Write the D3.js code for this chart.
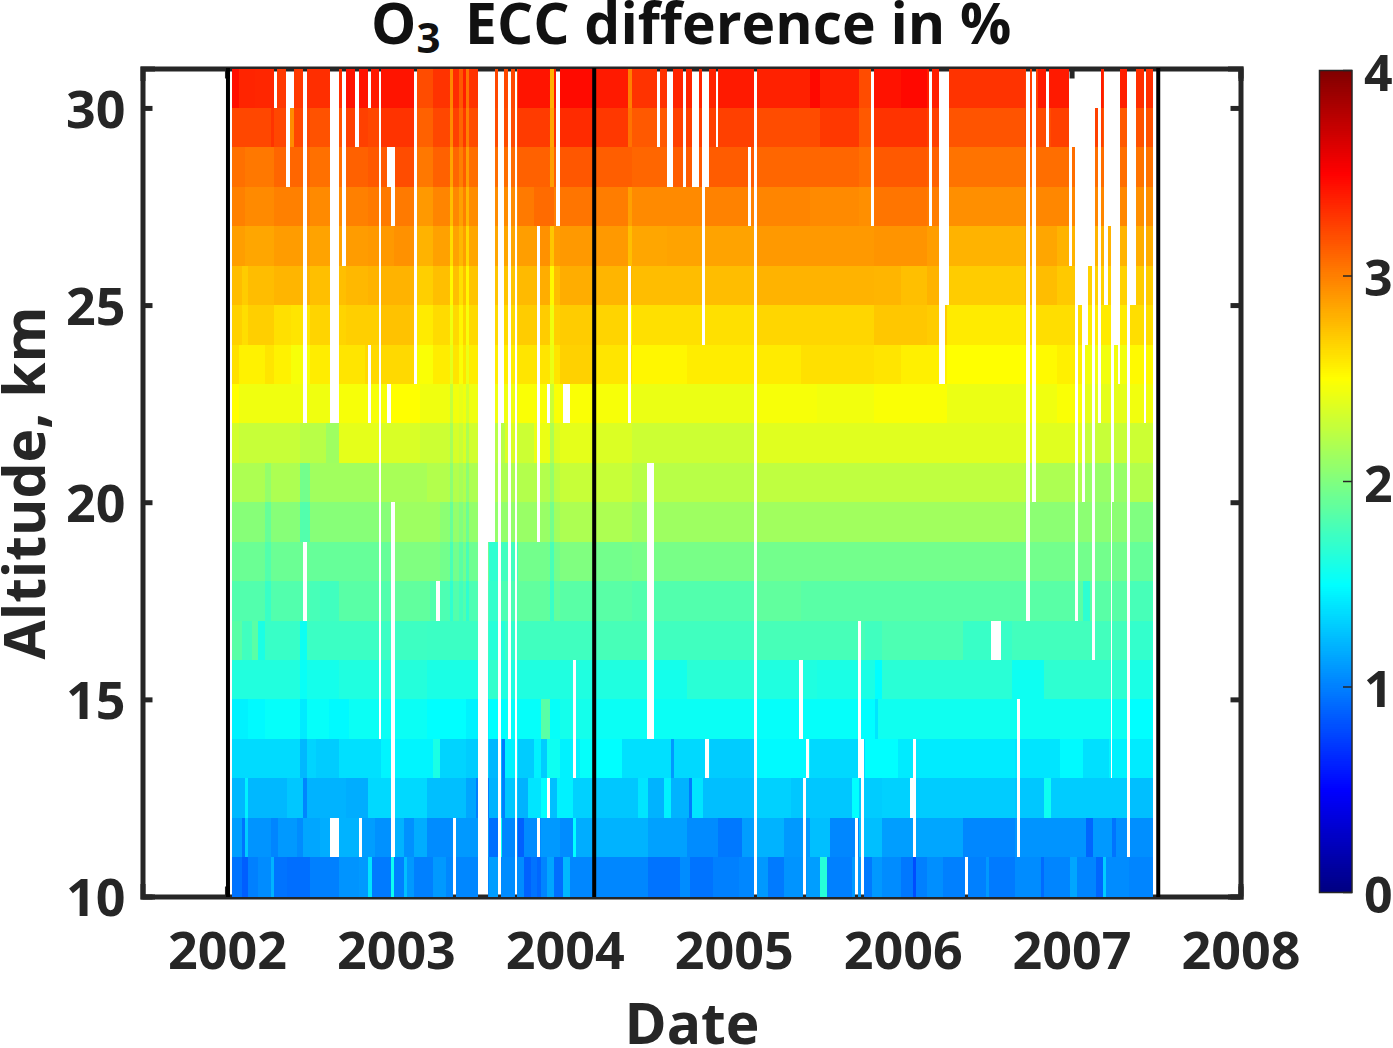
<!DOCTYPE html>
<html>
<head>
<meta charset="utf-8">
<script src="https://d3js.org/d3.v7.min.js"></script>
<style>
	html, body { margin: 0; padding: 0; background: #fff; }
	svg { display: block; }
	text { font-family: "Open Sans", sans-serif; font-weight: 700; fill: #262626; }
</style>
</head>
<body>
<svg id="chart" width="1393" height="1048"></svg>
<script>
var yearTicks = [2002, 2003, 2004, 2005, 2006, 2007, 2008];
var altTicks = [10, 15, 20, 25, 30];
var colorTicks = [0, 1, 2, 3, 4];
var launchLines = [2002.006, 2004.174, 2007.513];

// weekly bins: week w starts at firstWeekYear + w/52
var firstWeekYear = 2002.03;
var lastWeek = 283.4;

// each row is one altitude layer, as [first week of the run, difference in %]
var alt30 = [[0,3.44],[2,3.36],[7,3.35],[13,3.28],[22,3.32],[35,3.43],[42,3.4],[46,3.42],[56,3.2],[62,3.3],[67,2.97],[68,3.33],[70,3.15],[71,3.38],[72,3.05],[73,3.3],[76,3.22],[88,3.42],[98,2.8],[99,3.4],[101,3.46],[111,3.4],[122,3.0],[123,3.3],[134,3.36],[150,3.4],[161,3.37],[178,3.47],[181,3.38],[193,3.2],[197.5,3.43],[206,3.47],[214,3.38],[220,3.3],[244,3.25],[248,3.4],[268,3.3],[272,3.38],[276,3.32]];
var alt29 = [[0,3.22],[12,3.3],[13,3.22],[17,2.95],[19,3.22],[24,3.18],[35,3.25],[42,3.22],[46,3.3],[56,3.12],[62,3.22],[67,2.95],[68,3.25],[70,3.1],[71,3.28],[72,3.0],[73,3.2],[88,3.27],[98,2.85],[99,3.3],[101,3.33],[111,3.28],[122,3.05],[123,3.15],[134,3.25],[161,3.2],[181,3.28],[193,3.15],[197.5,3.3],[214,3.25],[220,3.17],[244,3.2],[252,3.25],[268,3.15],[276,3.18]];
var alt28 = [[0,3.06],[4,3.03],[13,3.1],[24,3.06],[35,3.12],[42,3.15],[50,3.2],[56,3.03],[62,3.12],[67,2.85],[68,3.1],[70,3.0],[71,3.14],[72,2.88],[73,3.07],[88,3.12],[98,2.88],[99,3.12],[101,3.16],[111,3.13],[123,3.1],[134,3.14],[161,3.1],[193,3.06],[197.5,3.15],[214,3.12],[220,3.05],[244,3.07],[276,3.05]];
var alt27 = [[0,3.0],[4,2.96],[13,3.0],[24,2.96],[35,3.0],[42,3.02],[56,2.9],[62,2.98],[67,2.75],[68,2.97],[70,2.87],[71,3.0],[72,2.78],[73,2.95],[88,3.02],[93,3.08],[99,3.0],[101,3.04],[111,3.01],[122,2.87],[123,2.96],[145,2.99],[161,2.98],[178,2.96],[193,2.94],[197.5,3.04],[214,3.01],[220,2.94],[244,2.97],[276,2.94]];
var alt26 = [[0,2.88],[4,2.85],[13,2.89],[24,2.86],[35,2.89],[42,2.9],[50,2.93],[56,2.8],[62,2.87],[67,2.63],[68,2.86],[70,2.78],[71,2.88],[72,2.65],[73,2.85],[88,2.88],[94,2.93],[98,2.72],[99,2.88],[101,2.9],[122,2.75],[123,2.85],[134,2.86],[161,2.9],[197.5,2.92],[214,2.88],[220,2.8],[244,2.85],[254,2.8],[276,2.82]];
var alt25 = [[0,2.76],[3,2.7],[5,2.76],[13,2.79],[24,2.75],[35,2.78],[42,2.8],[56,2.69],[62,2.75],[67,2.52],[68,2.75],[70,2.62],[71,2.75],[72,2.53],[73,2.73],[88,2.77],[94,2.82],[98,2.52],[99,2.75],[101,2.82],[111,2.79],[123,2.76],[161,2.8],[197.5,2.79],[206,2.75],[214,2.8],[220,2.7],[244,2.76],[254,2.71],[262,2.68],[276,2.7]];
var alt24 = [[0,2.68],[3,2.63],[5,2.69],[13,2.62],[18,2.6],[24,2.67],[35,2.69],[46,2.74],[56,2.58],[62,2.64],[67,2.44],[68,2.65],[70,2.53],[71,2.67],[72,2.47],[73,2.65],[88,2.7],[98,2.44],[99,2.68],[101,2.7],[111,2.67],[122,2.52],[123,2.62],[161,2.66],[197.5,2.72],[214,2.7],[220,2.58],[244,2.63],[262,2.58],[276,2.63]];
var alt23 = [[0,2.62],[2,2.55],[10,2.6],[13,2.55],[18,2.47],[24,2.57],[33,2.6],[41,2.65],[46,2.65],[56,2.48],[62,2.57],[67,2.4],[68,2.6],[70,2.48],[71,2.6],[72,2.42],[73,2.57],[88,2.6],[98,2.42],[99,2.6],[101,2.68],[111,2.6],[123,2.53],[140,2.57],[161,2.58],[175,2.62],[197.5,2.6],[206,2.56],[220,2.5],[244,2.52],[254,2.56],[262,2.45],[276,2.52]];
var alt22 = [[0,2.5],[2,2.44],[33,2.47],[48,2.5],[58,2.44],[67,2.27],[68,2.45],[70,2.41],[71,2.45],[72,2.32],[73,2.44],[88,2.48],[98,2.3],[99,2.48],[111,2.47],[123,2.42],[161,2.47],[180,2.45],[197.5,2.48],[220,2.42],[244,2.44],[254,2.48],[262,2.4],[276,2.45]];
var alt21 = [[0,2.32],[2,2.28],[21,2.22],[29,2.12],[33,2.4],[46,2.35],[58,2.3],[67,2.15],[68,2.34],[70,2.28],[71,2.36],[72,2.18],[73,2.32],[81,2.22],[84,2.35],[88,2.3],[93,2.42],[98,2.18],[99,2.35],[101,2.4],[111,2.36],[123,2.3],[161,2.38],[244,2.38],[262,2.28],[276,2.3]];
var alt20 = [[0,2.18],[10,2.08],[12,2.18],[21,1.95],[24,2.13],[45,2.16],[60,2.2],[67,2.05],[68,2.2],[70,2.15],[71,2.2],[72,2.05],[73,2.18],[88,2.2],[98,2.08],[99,2.23],[101,2.28],[123,2.22],[161,2.25],[244,2.18],[262,2.1],[276,2.2]];
var alt19 = [[0,2.03],[10,1.9],[12,2.03],[21,1.82],[24,2.03],[50,2.12],[64,2.05],[67,1.9],[68,2.08],[70,2.0],[71,2.08],[72,1.92],[73,2.08],[88,2.1],[98,1.95],[99,2.13],[101,2.18],[123,2.12],[161,2.13],[244,2.05],[276,2.0]];
var alt18 = [[0,1.92],[10,1.82],[12,1.92],[24,1.9],[50,2.0],[64,1.95],[67,1.78],[68,1.95],[70,1.85],[71,1.95],[72,1.78],[73,1.93],[79,1.68],[82,1.75],[88,1.95],[98,1.78],[99,1.95],[101,2.0],[111,1.95],[123,1.97],[161,1.95],[244,1.95],[276,1.9]];
var alt17 = [[0,1.82],[10,1.72],[12,1.82],[24,1.78],[27,1.75],[33,1.85],[46,1.82],[50,1.88],[61,1.82],[64,1.8],[67,1.68],[68,1.82],[70,1.75],[71,1.82],[72,1.68],[73,1.8],[79,1.7],[82,1.8],[88,1.88],[98,1.72],[99,1.88],[101,1.85],[123,1.82],[161,1.88],[175,1.85],[244,1.85],[262,1.68],[264,1.85],[276,1.78]];
var alt16 = [[0,1.85],[3,1.75],[6,1.85],[8,1.6],[10,1.72],[21,1.55],[23,1.73],[50,1.74],[60,1.73],[79,1.65],[84,1.7],[88,1.75],[111,1.78],[130,1.75],[161,1.78],[195,1.75],[200,1.8],[225,1.72],[240,1.76],[276,1.7]];
var alt15 = [[0,1.63],[21,1.53],[23,1.58],[33,1.62],[46,1.64],[60,1.6],[78,1.62],[79,1.7],[82,1.62],[112,1.62],[130,1.58],[140,1.66],[161,1.62],[180,1.6],[198,1.5],[200,1.66],[240,1.55],[250,1.68],[276,1.6]];
var alt14 = [[0,1.45],[5,1.48],[10,1.52],[21,1.42],[23,1.52],[30,1.48],[36,1.54],[60,1.5],[72,1.45],[79,1.5],[84,1.52],[95,1.85],[98,1.52],[101,1.58],[112,1.54],[161,1.52],[193,1.5],[198,1.4],[199,1.56],[241,1.55],[276,1.5]];
var alt13 = [[0,1.36],[21,1.22],[23,1.33],[26,1.3],[33,1.38],[46,1.46],[62,1.6],[64,1.33],[72,1.3],[79,1.22],[83,0.98],[84,1.45],[88,1.3],[93,1.45],[95,1.3],[97,1.55],[101,1.45],[107,1.52],[112,1.5],[120,1.38],[135,1.1],[136,1.35],[147,1.3],[161,1.48],[178,1.35],[195,1.5],[205,1.42],[241,1.4],[255,1.48],[262,1.38],[270,1.45],[276,1.42]];
var alt12 = [[0,1.22],[4,1.45],[5,1.22],[17,1.28],[22,1.02],[23,1.2],[35,1.18],[42,1.35],[60,1.25],[72,1.15],[75,1.0],[79,1.2],[83,1.0],[84,1.28],[88,1.2],[91,1.4],[95,1.5],[98,1.25],[100,1.45],[105,1.32],[112,1.28],[125,1.4],[128,1.2],[133,1.45],[135,1.2],[140.6,0.98],[141.5,1.4],[145,1.25],[161,1.32],[172,1.28],[191,1.5],[193,1.3],[200,1.32],[210,1.3],[241,1.28],[250,1.55],[252,1.3],[276,1.25]];
var alt11 = [[0,1.12],[3,0.95],[4,1.3],[5,1.08],[12,1.02],[14,1.1],[20,1.05],[22,1.15],[27,1.18],[33,1.2],[40,1.12],[44,1.07],[50,1.2],[53,1.07],[56,1.18],[60,1.05],[69,1.1],[79,0.93],[82,1.55],[83,1.03],[88,0.88],[90,1.05],[95,1.1],[101,1.05],[105,1.5],[106,1.18],[112,1.2],[128,1.13],[140,1.05],[149.5,0.97],[157,1.12],[161,1.2],[170,1.1],[178,1.25],[184,1.03],[193,1.25],[200,1.12],[210,1.15],[225,1.03],[241,1.08],[263,0.9],[265,1.1],[271,0.95],[272,1.06]];
var alt10 = [[0,0.95],[3,0.87],[5,1.0],[8,1.05],[12,1.2],[13,0.95],[17,0.93],[24,1.0],[33,1.08],[39,1.1],[42,1.4],[43,0.98],[49,1.55],[50,1.0],[53,1.25],[54,1.1],[56,1.0],[62,1.1],[66,1.03],[79,1.12],[82,1.05],[88,1.05],[90,0.88],[92,0.95],[94,0.9],[95,1.02],[97,1.15],[99,0.93],[102,1.22],[104,1.03],[128,0.95],[138,1.05],[141,0.95],[148,1.0],[156,1.03],[161,1.1],[165,0.98],[170,1.08],[177,1.12],[181,1.65],[183,1.0],[191,1.1],[194.5,0.98],[197,1.1],[200,1.05],[206,0.97],[209.5,0.8],[210.5,1.0],[214,1.06],[219,1.0],[232,1.1],[233,0.98],[241,1.05],[249,0.92],[250,1.02],[258,1.15],[260,1.02],[266,0.9],[268,1.3],[269,1.05],[276,1.02]];

var layers = [alt10, alt11, alt12, alt13, alt14, alt15, alt16, alt17, alt18, alt19, alt20, alt21, alt22, alt23, alt24, alt25, alt26, alt27, alt28, alt29, alt30];

// missing data: [first week, last week, altitude from, altitude to]
var gaps = [
	[12.9,13.8,30,31],[16.6,17.8,28,31],[17.8,19,30,31],[22,23.2,22,31],[22,23.2,17,19],
	[30.1,32.9,22,31],[30.1,32.9,11,12],[33.85,35.1,26,31],[37.85,39.1,29,31],[39,40,11,12],
	[41.85,42.8,30,31],[41.85,42.8,22,24],[45.2,45.8,14,31],[47.7,50.15,28,29],[48.9,50.15,27,28],
	[47.7,48.9,22,23],[48.9,50.15,11,20],[56,56.9,23,31],[62.8,64,17,18],[68,68.9,10,12],
	[75.7,78.8,10,31],[78.8,80.9,19,31],[81.85,82.8,10,31],[82.8,83.7,22,31],[84.9,85.85,14,31],
	[87.1,87.7,10,31],[93.85,94.8,19,27],[93.85,94.8,11,12],[99.7,100.9,27,31],[96.9,97.85,22,23],
	[96.9,97.85,12,13],[101.8,104,22,23],[104.9,105.8,13,16],[121.8,122.8,22,26],[127.7,129.8,14,21],
	[130.8,131.7,29,31],[133.8,135.7,28,31],[138.8,139.7,28,31],[141.5,143.7,28,31],[144.6,146.8,28,31],
	[144.6,145.6,24,28],[145.5,146.8,13,14],[148.9,149.5,29,31],[158.8,159.7,27,29],[160.6,161.5,10,31],
	[174.5,175.7,14,16],[175.7,176.6,10,13],[176.6,177.5,13,14],[191.7,192.6,10,12],[192.6,193.5,13,17],
	[193.5,194.5,10,14],[196.6,197.5,27,31],[208.6,209.5,12,13],[209.5,210.5,11,14],[214.5,215.4,27,31],
	[217.5,219.4,23,31],[219.4,220.6,25,31],[225.5,226.5,10,11],[233.5,236.6,16,17],[241.5,242.5,11,15],
	[244.3,245.5,17,31],[246.2,247.4,20,31],[250.5,251.4,29,31],[257.5,258.5,26,31],[258.5,259.4,29,31],
	[259.4,260.3,17,31],[260.3,261.5,25,31],[261.5,262.5,20,31],[262.5,263.4,24,31],[263.4,264.6,26,31],
	[264.6,265.5,16,31],[265.5,266.5,30,31],[266.5,267.4,22,31],[268.3,269.5,25,31],[269.5,270.5,27,31],
	[270.5,271.4,20,31],[270.5,270.9,13,20],[271.4,272.6,24,31],[272.6,273.5,23,31],[275.4,276.3,11,31],
	[276.3,278.2,25,31],[280.6,281.5,22,31]
];

var jetStops = ["#000080", "#0000ff", "#00ffff", "#ffff00", "#ff0000", "#800000"];
var jetValues = [0, 0.5, 1.5, 2.5, 3.5, 4];

var plot = {left: 142.5, right: 1240.5, top: 68.5, bottom: 896.5};
var bar = {left: 1319.5, right: 1352, top: 70.5, bottom: 892.5};
var tickLen = 10;

var svg = d3.select("#chart");
var x = d3.scaleLinear().domain([2001.5, 2008]).range([plot.left, plot.right]);
var y = d3.scaleLinear().domain([10, 31]).range([plot.bottom, plot.top]);
var color = d3.scaleLinear().domain(jetValues).range(jetStops);
var weekX = function(w) { return x(firstWeekYear + w / 52); };

// Frame with inside ticks on all four sides
var drawFrame = function() {
	var bottomAxis = d3.axisBottom(x).tickValues(yearTicks).tickFormat(d3.format("d")).tickSize(-tickLen).tickPadding(36);
	var topAxis = d3.axisTop(x).tickValues(yearTicks).tickFormat("").tickSize(-tickLen);
	var leftAxis = d3.axisLeft(y).tickValues(altTicks).tickSize(-tickLen).tickPadding(17);
	var rightAxis = d3.axisRight(y).tickValues(altTicks).tickFormat("").tickSize(-tickLen);

	var g = svg.append("g");
	g.append("g").attr("transform", "translate(0," + plot.bottom + ")").call(bottomAxis);
	g.append("g").attr("transform", "translate(0," + plot.top + ")").call(topAxis);
	var left = g.append("g").attr("transform", "translate(" + plot.left + ",0)").call(leftAxis);
	g.append("g").attr("transform", "translate(" + plot.right + ",0)").call(rightAxis);
	g.selectAll(".domain, .tick line").attr("stroke", "#262626").attr("stroke-width", 5);
	g.selectAll(".domain").attr("stroke-linecap", "square");
	g.selectAll(".tick text").attr("font-size", 52).attr("font-family", null).attr("fill", "#262626");
	left.selectAll(".tick text").attr("dy", "0.37em");
};

// Cut one layer's runs where the gap list says there is no data
var layerCells = function(runs, altitude) {
	var cells = [];
	var holes = gaps.filter(function(g) { return g[2] <= altitude && g[3] > altitude; })
		.sort(function(a, b) { return a[0] - b[0]; });
	runs.forEach(function(run, i) {
		var start = run[0];
		var end = i + 1 < runs.length ? runs[i + 1][0] : lastWeek;
		holes.forEach(function(h) {
			if (h[1] <= start || h[0] >= end) return;
			if (h[0] > start) cells.push({from: start, to: h[0], alt: altitude, value: run[1]});
			start = Math.max(start, h[1]);
		});
		if (start < end) cells.push({from: start, to: end, alt: altitude, value: run[1]});
	});
	return cells;
};

var drawCells = function() {
	var cells = d3.merge(layers.map(function(runs, i) { return layerCells(runs, 10 + i); }));
	svg.append("g").attr("shape-rendering", "crispEdges")
		.selectAll("rect").data(cells).enter().append("rect")
		.attr("x", function(d) { return weekX(d.from); })
		.attr("width", function(d) { return weekX(d.to) - weekX(d.from); })
		.attr("y", function(d) { return y(d.alt + 1); })
		.attr("height", function(d) { return y(d.alt) - y(d.alt + 1); })
		.attr("fill", function(d) { return color(d.value); });

	svg.append("g").selectAll("line").data(launchLines).enter().append("line")
		.attr("x1", x).attr("x2", x)
		.attr("y1", plot.top - 0.5).attr("y2", plot.bottom + 0.5)
		.attr("stroke", "#000").attr("stroke-width", 4);
};

var drawColorbar = function() {
	var c = d3.scaleLinear().domain([0, 4]).range([bar.bottom, bar.top]);
	var steps = d3.range(0, 4, 0.01);
	svg.append("g").attr("shape-rendering", "crispEdges")
		.selectAll("rect").data(steps).enter().append("rect")
		.attr("x", bar.left).attr("width", bar.right - bar.left)
		.attr("y", function(d) { return c(d + 0.01); })
		.attr("height", function(d) { return c(d) - c(d + 0.01) + 0.5; })
		.attr("fill", function(d) { return color(d + 0.005); });
	svg.append("rect")
		.attr("x", bar.left).attr("y", bar.top)
		.attr("width", bar.right - bar.left).attr("height", bar.bottom - bar.top)
		.attr("fill", "none").attr("stroke", "#262626").attr("stroke-width", 1.5);
	svg.append("g").selectAll("line").data(colorTicks).enter().append("line")
		.attr("x1", bar.right - 9).attr("x2", bar.right)
		.attr("y1", c).attr("y2", c)
		.attr("stroke", "#262626").attr("stroke-width", 1.5);
	svg.append("g").selectAll("text").data(colorTicks).enter().append("text")
		.attr("x", 1364)
		.attr("y", function(d) { return c(d) + 20; })
		.attr("font-size", 50)
		.text(function(d) { return d; });
};

var drawLabels = function() {
	var title = svg.append("text").attr("x", 371).attr("y", 44)
		.attr("font-size", 57).attr("style", "fill:#111");
	title.append("tspan").text("O");
	title.append("tspan").attr("dy", 9).attr("font-size", 42).text("3");
	title.append("tspan").attr("dy", -9).attr("x", 465).text("ECC difference in %");

	svg.append("text").attr("x", 692).attr("y", 1044)
		.attr("text-anchor", "middle").attr("font-size", 57).text("Date");
	svg.append("text").attr("transform", "translate(45,483) rotate(-90)")
		.attr("text-anchor", "middle").attr("font-size", 57).text("Altitude, km");
};

document.addEventListener("DOMContentLoaded", function() {
	drawFrame();
	drawCells();
	drawColorbar();
	drawLabels();
});
</script>
</body>
</html>
